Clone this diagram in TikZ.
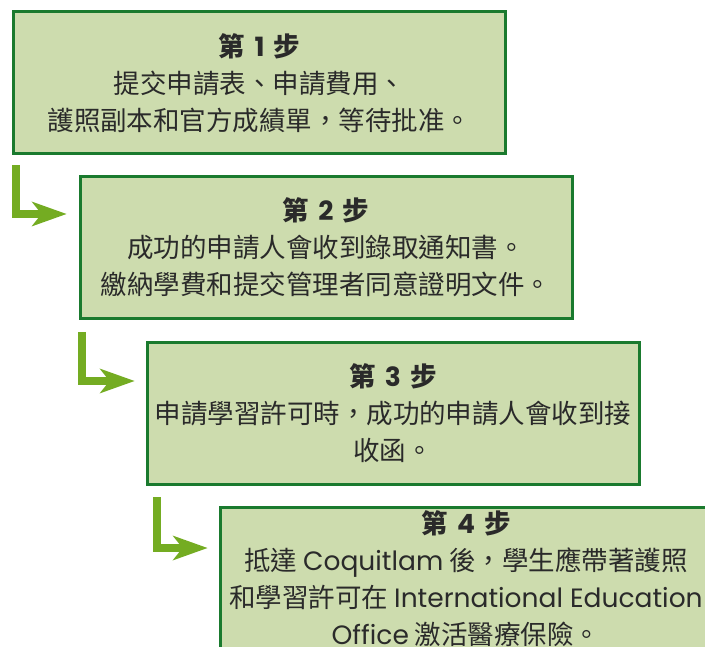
\documentclass[tikz,border=0pt]{standalone}
\usepackage{fontspec}
\setmainfont{Noto Sans CJK TC}
\newfontfamily\lat{Poppins}
\usetikzlibrary{arrows.meta,calc}
\definecolor{boxfill}{HTML}{CDDCAE}
\definecolor{boxline}{HTML}{1A7A2E}
\definecolor{arrowgreen}{HTML}{74AC22}
\definecolor{txt}{HTML}{2A2A2A}
\newcommand{\stepno}[1]{\textbf{第\hspace{0.35em}{\lat #1}\hspace{0.35em}步}}
\begin{document}
\begin{tikzpicture}[x=1pt,y=-1pt,
  stepbox/.style={draw=boxline, fill=boxfill, line width=3pt,
    minimum width=492pt, minimum height=142pt, inner sep=0pt,
    align=center, text=txt, font=\fontsize{26.5}{37}\selectfont},
  turnarrow/.style={draw=arrowgreen, line width=8pt,
    -{Stealth[length=35pt,width=25pt,inset=10pt,line width=0pt]}}]
\useasboundingbox (0,0) rectangle (705,647);
\clip (0,0) rectangle (705,647);
\node[stepbox] (b1) at (259.5,83)
  {\stepno{1}\\提交申請表、申請費用、\\護照副本和官方成績單，等待批准。};
\node[stepbox] (b2) at (326,247.5)
  {\stepno{2}\\成功的申請人會收到錄取通知書。\\繳納學費和提交管理者同意證明文件。};
\node[stepbox] (b3) at (393,413.5)
  {\stepno{3}\\申請學習許可時，成功的申請人會收到接\\收函。};
\node[stepbox] (b4) at (466,578.5)
  {\stepno{4}\\抵達 {\lat Coquitlam} 後，學生應帶著護照\\和學習許可在 {\lat International Education}\\{\lat Office} 激活醫療保險。};
\draw[turnarrow] ($(b1.south west)+(4,10)$) |- ($(b2.north west)+(-12,39)$);
\draw[turnarrow] ($(b2.south west)+(3.5,12)$) |- ($(b3.north west)+(-11,40)$);
\draw[turnarrow] ($(b3.south west)+(11,11)$) |- ($(b4.north west)+(-11,42)$);
\end{tikzpicture}
\end{document}
